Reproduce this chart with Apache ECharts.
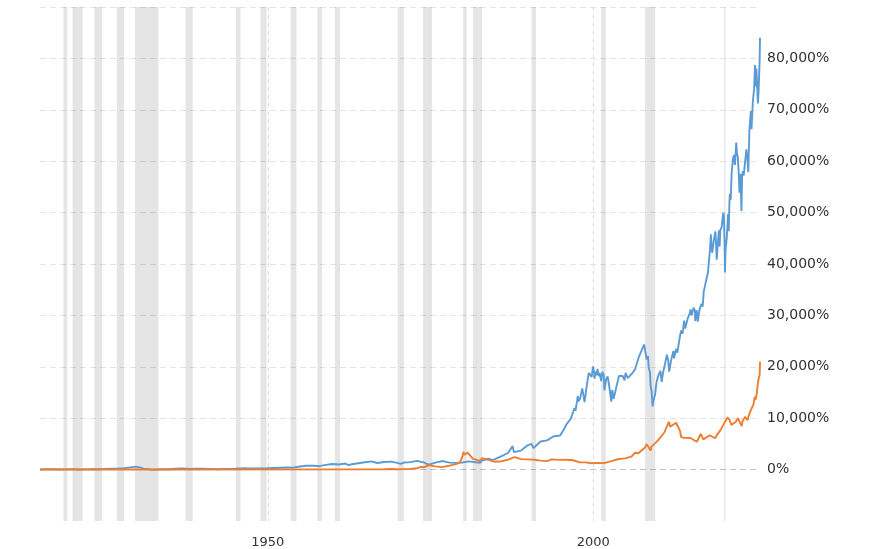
<!DOCTYPE html>
<html>
<head>
<meta charset="utf-8">
<script src="https://cdn.jsdelivr.net/npm/echarts@6/dist/echarts.min.js"></script>
<style>
html,body{margin:0;padding:0;background:#fff;}
#chart{width:870px;height:549px;}
</style>
</head>
<body>
<div id="chart"></div>
<script>
// x tick labels (years)
const xTickYears = [1950, 2000];

// Dow Jones cumulative % change (blue)
const dowPct = [
[1915.0,0],[1915.9,74],[1916.9,67],[1917.9,30],[1918.9,44],[1919.9,88],[1920.9,26],[1921.9,42],[1922.9,74],[1923.9,67],
[1924.9,111],[1925.9,174],[1926.9,175],[1927.9,251],[1928.9,426],[1929.7,568],[1929.9,335],[1930.3,416],[1930.9,189],[1931.9,37],
[1932.5,-26],[1932.9,5],[1933.9,75],[1934.9,82],[1935.9,153],[1936.9,216],[1937.2,233],[1937.9,112],[1938.9,172],[1939.9,163],
[1940.9,130],[1941.9,95],[1942.3,70],[1942.9,109],[1943.9,139],[1944.9,167],[1945.9,239],[1946.4,272],[1946.9,211],[1947.9,218],
[1948.9,211],[1949.9,251],[1950.9,312],[1951.9,372],[1952.9,412],[1953.9,393],[1954.9,609],[1955.9,756],[1956.9,777],[1957.9,665],
[1958.9,925],[1959.9,1091],[1960.9,981],[1961.9,1182],[1962.4,884],[1962.9,1044],[1963.9,1239],[1964.9,1433],[1965.9,1600],[1966.8,1286],
[1967.9,1488],[1968.9,1556],[1969.9,1304],[1970.4,1128],[1970.9,1372],[1971.9,1461],[1972.9,1689],[1973.9,1393],[1974.7,967],[1974.9,981],
[1975.9,1395],[1976.9,1663],[1977.9,1358],[1978.9,1312],[1979.9,1372],[1980.2,1277],[1980.9,1591],[1981.9,1435],[1982.6,1304],[1982.9,1737],
[1983.9,2109],[1984.5,1830],[1984.9,2026],[1985.9,2614],[1986.9,3226],[1987.6,4570],[1987.8,3398],[1987.9,3302],[1988.9,3705],[1989.9,4730],
[1990.5,4996],[1990.8,4184],[1990.9,4521],[1991.9,5460],[1992.9,5691],[1993.9,6486],[1994.9,6626],[1995.5,7893],[1995.9,8877],[1996.5,9819],
[1996.9,11212],[1997.1,11967],[1997.25,11451],[1997.5,13360],[1997.6,14326],[1997.7,13272],[1997.8,12956],[1997.95,13774],[1998.3,15800],[1998.55,15484],
[1998.65,13126],[1998.95,16007],[1999.3,18828],[1999.45,19146],[1999.6,18593],[1999.75,18035],[1999.95,20070],[2000.1,19093],[2000.2,17668],[2000.3,19061],
[2000.5,18360],[2000.65,19575],[2000.75,18586],[2000.9,18172],[2000.97,18825],[2001.2,17232],[2001.4,19044],[2001.6,18361],[2001.7,15423],[2001.95,17482],
[2002.2,18153],[2002.45,16116],[2002.55,15228],[2002.75,13219],[2002.9,15507],[2003.1,13744],[2003.3,14777],[2003.6,16418],[2003.95,18240],[2004.5,18207],
[2004.8,17370],[2004.95,18818],[2005.3,17781],[2005.95,18704],[2006.4,19493],[2006.55,19525],[2006.95,21765],[2007.2,21574],[2007.5,23423],[2007.8,24339],
[2007.95,23172],[2008.2,21414],[2008.4,22072],[2008.5,19812],[2008.7,18937],[2008.8,16260],[2008.95,15296],[2009.1,12291],[2009.2,13249],[2009.5,14719],
[2009.7,16939],[2009.95,18195],[2010.3,19214],[2010.5,17047],[2010.7,18826],[2010.95,20212],[2011.3,22374],[2011.5,21204],[2011.65,19046],[2011.95,21335],
[2012.3,23081],[2012.4,21642],[2012.7,23474],[2012.9,22751],[2013.0,22889],[2013.3,25935],[2013.5,27093],[2013.7,26444],[2013.95,28982],[2014.1,27442],
[2014.5,29421],[2014.8,30411],[2014.95,31168],[2015.1,30014],[2015.4,31498],[2015.6,30935],[2015.65,28896],[2015.9,30988],[2016.05,28788],[2016.3,31081],
[2016.6,32237],[2016.8,31728],[2016.95,34572],[2017.3,36639],[2017.6,38305],[2017.95,43267],[2018.05,45775],[2018.15,43811],[2018.25,42186],[2018.5,44488],
[2018.75,46318],[2018.85,43963],[2018.95,40825],[2019.1,43760],[2019.3,46554],[2019.4,43435],[2019.5,46567],[2019.7,47123],[2019.95,49967],[2020.05,49472],
[2020.15,44477],[2020.22,38351],[2020.3,42612],[2020.5,45186],[2020.7,49777],[2020.8,46395],[2020.9,51898],[2020.97,53595],[2021.1,52502],[2021.25,57761],
[2021.45,60477],[2021.6,61189],[2021.75,59277],[2021.95,63651],[2022.05,61535],[2022.2,60740],[2022.33,57754],[2022.45,53891],[2022.6,57523],[2022.75,50296],
[2022.85,57326],[2022.97,58053],[2023.1,57193],[2023.3,59721],[2023.5,62286],[2023.65,60816],[2023.8,57888],[2023.97,66023],[2024.2,69737],[2024.3,66244],
[2024.5,71553],[2024.7,74163],[2024.83,78688],[2024.97,74539],[2025.05,78047],[2025.2,73586],[2025.28,71249],[2025.4,74058],[2025.48,77256],[2025.55,79804],
[2025.6,84000]
];

// Gold cumulative % change (orange)
const goldPct = [
[1915.0,8],[1933.9,8],[1934.1,82],[1967.9,82],[1968.2,98],[1968.9,114],[1969.9,82],[1970.9,93],[1971.9,124],[1972.5,239],
[1972.9,233],[1973.5,525],[1973.9,452],[1974.9,853],[1975.7,629],[1976.7,473],[1977.9,759],[1978.9,1077],[1979.5,1358],[1979.9,2567],
[1980.05,3450],[1980.2,2900],[1980.35,2600],[1980.7,3300],[1980.95,2973],[1981.5,2088],[1981.9,1983],[1982.5,1671],[1982.9,2244],[1983.2,2150],
[1983.9,1879],[1984.9,1515],[1985.2,1463],[1985.9,1619],[1986.9,1931],[1987.9,2436],[1988.9,2035],[1989.9,1983],[1990.9,1905],[1991.9,1738],
[1992.9,1640],[1993.6,1983],[1994.9,1895],[1995.9,1916],[1996.9,1822],[1997.9,1410],[1998.9,1400],[1999.5,1233],[1999.8,1463],[2000.9,1317],
[2001.3,1254],[2001.9,1343],[2002.9,1686],[2003.9,2067],[2004.9,2181],[2005.9,2572],[2006.4,3285],[2006.9,3192],[2007.9,4244],[2008.2,4952],
[2008.8,3702],[2008.9,4431],[2009.9,5629],[2010.9,7218],[2011.6,9300],[2011.8,8338],[2011.9,8103],[2012.7,9118],[2012.9,8624],[2013.3,7556],
[2013.5,6306],[2013.9,6176],[2014.9,6150],[2015.9,5421],[2016.5,6931],[2016.9,5890],[2017.9,6671],[2018.7,6098],[2018.9,6567],[2019.6,7817],
[2019.9,7791],[2020.6,10160],[2020.9,9744],[2021.2,8702],[2021.9,9301],[2022.2,10004],[2022.8,8442],[2022.9,9353],[2023.3,10264],[2023.7,9640],
[2023.9,10629],[2024.3,11879],[2024.6,12660],[2024.8,14171],[2024.9,13571],[2025.1,14744],[2025.3,17088],[2025.45,17300],[2025.55,18500],[2025.6,21000]
];

// US recessions (start, end) in decimal years
const recessions = [
[1918.6,1919.2],[1920.0,1921.55],[1923.35,1924.55],[1926.8,1927.9],[1929.6,1933.2],[1937.35,1938.45],[1945.1,1945.8],
[1948.85,1949.8],[1953.5,1954.4],[1957.6,1958.3],[1960.3,1961.1],[1969.95,1970.9],[1973.85,1975.2],[1980.0,1980.55],
[1981.5,1982.9],[1990.5,1991.2],[2001.2,2001.9],[2007.95,2009.5],[2020.1,2020.3]
];

const chart = echarts.init(document.getElementById('chart'), null, {renderer:'canvas'});
const hColors = ['rgba(0,0,0,0)','#c4c4c4','#e4e4e4','#e4e4e4','#e4e4e4','#e4e4e4','#e4e4e4','#e4e4e4','#e4e4e4','#e4e4e4','#e4e4e4'];
chart.setOption({
  animation:false,
  backgroundColor:'#fff',
  grid:{left:40,right:110,top:7,bottom:28,containLabel:false},
  xAxis:{
    type:'value', min:1915, max:2025.6,
    axisLine:{show:false},
    axisTick:{show:false, customValues:xTickYears},
    axisLabel:{customValues:xTickYears, margin:15, color:'#333', fontSize:13, fontFamily:'DejaVu Sans', formatter:v=>String(Math.round(v))},
    splitLine:{show:true, lineStyle:{type:[4,4], color:'#dcdcdc', width:1}}
  },
  yAxis:{
    type:'value', position:'right', min:-10000, max:90000, interval:10000,
    axisLine:{show:false}, axisTick:{show:false},
    axisLabel:{margin:7, color:'#333', fontSize:14, fontFamily:'DejaVu Sans', padding:[3,0,0,0],
      formatter:v=> (v<0||v>80000)?'':v.toLocaleString('en-US')+'%'},
    splitLine:{show:true, lineStyle:{type:[6,4], color:hColors, width:1}}
  },
  series:[
    {type:'line', name:'rec', data:[], z:1, silent:true,
     markArea:{silent:true, itemStyle:{color:'rgba(0,0,0,0.1)'},
       data: recessions.map(r=>[{xAxis:r[0]},{xAxis:r[1]}])}},
    {type:'line', name:'Dow', data:dowPct, showSymbol:false, z:3,
     lineStyle:{color:'#5b9bd5', width:1.9}, itemStyle:{color:'#5b9bd5'}},
    {type:'line', name:'Gold', data:goldPct, showSymbol:false, z:4,
     lineStyle:{color:'#ed7d31', width:1.9}, itemStyle:{color:'#ed7d31'}}
  ]
});
</script>
</body>
</html>
